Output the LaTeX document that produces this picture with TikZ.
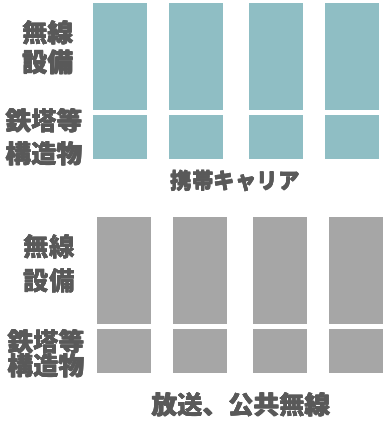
\documentclass[tikz,border=0pt]{standalone}
\usepackage{fontspec}
\newfontfamily\jp{Noto Sans CJK JP}
\newcommand\heavytxt[1]{\makebox[0pt][l]{\hspace{0.4pt}#1}\makebox[0pt][l]{\raisebox{0.3pt}{#1}}\makebox[0pt][l]{\hspace{0.4pt}\raisebox{0.3pt}{#1}}#1}
\definecolor{tealbox}{HTML}{8FBEC4}
\definecolor{graybox}{HTML}{A6A6A6}
\definecolor{txt}{HTML}{595959}
\begin{document}
\begin{tikzpicture}[x=1pt,y=-1pt,
  blk/.style={inner sep=0pt, outer sep=0pt, anchor=north west},
  lbl/.style={inner sep=0pt, text=txt, font=\jp\bfseries\fontsize{25.5}{28}\selectfont},
  captext/.style={inner sep=0pt, text=txt, font=\jp\bfseries\fontsize{21.5}{24}\selectfont}]
\useasboundingbox (0,0) rectangle (385,423);
% top group (teal)
\foreach \i/\x in {1/93,2/169,3/249,4/325}{
  \node[blk, fill=tealbox, minimum width=54pt, minimum height=107pt] (tu\i) at (\x,3) {};
  \node[blk, fill=tealbox, minimum width=54pt, minimum height=44pt] (tl\i) at (\x,115) {};
}
% bottom group (gray)
\foreach \i/\x in {1/97,2/173,3/253,4/329}{
  \node[blk, fill=graybox, minimum width=54pt, minimum height=107pt] (bu\i) at (\x,217) {};
  \node[blk, fill=graybox, minimum width=54pt, minimum height=44pt] (bl\i) at (\x,329) {};
}
% labels top
\node[lbl] (t1) at (48,33) {\heavytxt{無線}};
\node[lbl] (t2) at (48,62.5) {\heavytxt{設備}};
\node[lbl] (t3) at (44,121) {\heavytxt{鉄塔等}};
\node[lbl] (t4) at (44,154) {\heavytxt{構造物}};
\node[captext] (tc) at (235,181) {\heavytxt{携帯キャリア}};
% labels bottom
\node[lbl] (b1) at (49,247) {\heavytxt{無線}};
\node[lbl] (b2) at (49,281) {\heavytxt{設備}};
\node[lbl] (b3) at (46,342) {\heavytxt{鉄塔等}};
\node[lbl] (b4) at (46,366) {\heavytxt{構造物}};
\node[lbl] (bc) at (241,405) {\heavytxt{放送、公共無線}};
\end{tikzpicture}
\end{document}
